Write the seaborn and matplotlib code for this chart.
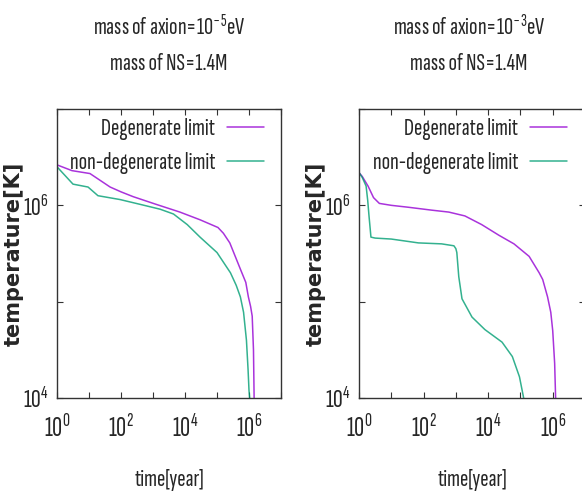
import matplotlib
matplotlib.use("Agg")
import numpy as np
import pandas as pd
import seaborn as sns
import matplotlib.pyplot as plt
from matplotlib.ticker import FixedLocator, LogFormatterSciNotation, NullFormatter

# ---- data (log10 of time [yr] and temperature [K]) ----
left_deg_logt = [0.0, 0.47, 1.03, 1.3, 1.66, 2.0, 2.38, 3.1, 3.84, 4.47, 5.03, 5.2, 5.4,
                 5.57, 5.74, 5.9, 5.98, 6.05, 6.1, 6.14, 6.16]
left_deg_logT = [6.42, 6.36, 6.33, 6.27, 6.19, 6.14, 6.09, 6.01, 5.93, 5.85, 5.77, 5.71, 5.61,
                 5.47, 5.33, 5.20, 5.05, 4.95, 4.85, 4.5, 4.0]
left_non_logt = [0.0, 0.25, 0.5, 0.97, 1.28, 1.97, 2.6, 3.22, 3.64, 4.07, 4.47, 5.0, 5.42,
                 5.6, 5.73, 5.83, 5.92, 5.97, 6.0, 6.02]
left_non_logT = [6.40, 6.31, 6.22, 6.19, 6.10, 6.06, 6.01, 5.96, 5.91, 5.80, 5.67, 5.51, 5.30,
                 5.17, 5.05, 4.89, 4.6, 4.3, 4.08, 4.0]
right_deg_logt = [0.0, 0.1, 0.28, 0.45, 0.63, 1.0, 1.53, 2.25, 2.78, 3.28, 3.8, 4.33, 4.8,
                  5.27, 5.58, 5.69, 5.84, 5.94, 6.0, 6.06, 6.09]
right_deg_logT = [6.34, 6.30, 6.20, 6.08, 6.02, 6.0, 5.98, 5.95, 5.93, 5.89, 5.80, 5.69, 5.60,
                  5.47, 5.30, 5.23, 5.05, 4.89, 4.7, 4.36, 4.0]
right_non_logt = [0.0, 0.1, 0.22, 0.27, 0.31, 0.37, 0.5, 1.0, 1.84, 2.56, 2.94, 3.0, 3.03,
                  3.09, 3.19, 3.5, 3.9, 4.43, 4.75, 4.97, 5.1]
right_non_logT = [6.34, 6.29, 6.20, 6.05, 5.89, 5.67, 5.66, 5.65, 5.61, 5.60, 5.58, 5.55, 5.51,
                  5.26, 5.03, 4.84, 4.71, 4.58, 4.43, 4.22, 4.0]

series_names = ["Degenerate limit", "non-degenerate limit"]
titles = ["mass of axion=10$^{\\mathdefault{-5}}$eV\nmass of NS=1.4M",
          "mass of axion=10$^{\\mathdefault{-3}}$eV\nmass of NS=1.4M"]
xlabel = "time[year]"
ylabel = "temperature[K]"
x_major = [1e0, 1e2, 1e4, 1e6]
x_minor = [1e1, 1e3, 1e5, 1e7]
y_major = [1e4, 1e6]
y_minor = [1e5, 1e7]
colors = {"Degenerate limit": "#9400d3", "non-degenerate limit": "#009e73"}

def frame(ts_d, Ts_d, ts_n, Ts_n):
    rows = []
    for name, ts, Ts in [(series_names[0], ts_d, Ts_d), (series_names[1], ts_n, Ts_n)]:
        for a, b in zip(ts, Ts):
            rows.append({"time": 10.0 ** a, "temp": 10.0 ** b, "series": name})
    return pd.DataFrame(rows)

panels = [frame(left_deg_logt, left_deg_logT, left_non_logt, left_non_logT),
          frame(right_deg_logt, right_deg_logT, right_non_logt, right_non_logT)]

sns.set_style("ticks")
FONT = "Sofia Sans Extra Condensed"
plt.rcParams["font.family"] = [FONT, "DejaVu Sans"]
plt.rcParams["mathtext.fontset"] = "custom"
plt.rcParams["mathtext.rm"] = FONT
plt.rcParams["mathtext.it"] = FONT
plt.rcParams["axes.unicode_minus"] = False

W, H = 582, 496
fig = plt.figure(figsize=(W / 100, H / 100), dpi=100)
positions = [[57 / W, 1 - 398 / H, 224 / W, 289 / H],
             [359 / W, 1 - 398 / H, 226 / W, 289 / H]]
ylabel_x = [(24 - 57) / 224, (326 - 359) / 226]
legend_x = [1 - 17 / 224, 1 - 18 / 226]

for i, df in enumerate(panels):
    ax = fig.add_axes(positions[i])
    sns.lineplot(data=df, x="time", y="temp", hue="series", palette=colors,
                 sort=False, estimator=None, ax=ax, linewidth=1.1, alpha=0.8)
    ax.set_xscale("log")
    ax.set_yscale("log")
    ax.set_xlim(1e0, 1e7)
    ax.set_ylim(1e4, 1e7)
    ax.xaxis.set_major_locator(FixedLocator(x_major))
    ax.xaxis.set_minor_locator(FixedLocator(x_minor))
    ax.yaxis.set_major_locator(FixedLocator(y_major))
    ax.yaxis.set_minor_locator(FixedLocator(y_minor))
    ax.xaxis.set_major_formatter(LogFormatterSciNotation())
    ax.yaxis.set_major_formatter(LogFormatterSciNotation())
    ax.xaxis.set_minor_formatter(NullFormatter())
    ax.yaxis.set_minor_formatter(NullFormatter())
    ax.tick_params(which="both", direction="in", top=True, right=True,
                   length=4, width=0.8, color="#333333")
    ax.tick_params(axis="x", which="major", labelsize=20, pad=12)
    ax.tick_params(axis="y", which="major", labelsize=19.5, pad=6)
    for s in ax.spines.values():
        s.set_color("#333333")
        s.set_linewidth(1.0)
    ax.set_xlabel(xlabel, fontsize=18)
    ax.xaxis.set_label_coords(0.5, -(469 - 398) / 289)
    ax.set_ylabel(ylabel, fontsize=15, fontfamily="DejaVu Sans", fontweight="bold")
    ax.yaxis.set_label_coords(ylabel_x[i], 0.5)
    ax.text(0.5 if i == 0 else 0.487, 1.0 + 64 / 289, titles[i], transform=ax.transAxes,
            ha="center", va="center", fontsize=18, linespacing=1.75)
    leg = ax.legend(loc="upper right", bbox_to_anchor=(legend_x[i], 1 - 9 / 289),
                    frameon=False, markerfirst=False, fontsize=18, handlelength=1.5,
                    handletextpad=0.45, labelspacing=0.45, borderaxespad=0.0, borderpad=0.0)
    for t in leg.get_texts():
        t.set_ha("right")

fig.savefig("out.png", dpi=100)
